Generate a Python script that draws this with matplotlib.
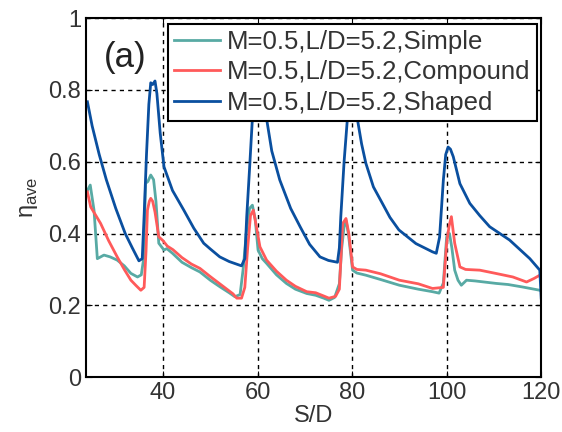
import matplotlib.pyplot as plt
import numpy as np

# M=0.5, L/D=5.2 averaged effectiveness vs S/D
simple_x = [24, 24.6, 25.4, 26.1, 27.5, 28.8, 30.3, 31.8, 33.2, 34.6, 35.4, 35.9, 36.3,
            36.8, 37.4, 38.0, 38.5, 39.1, 40.2, 40.8, 42.0, 44.0, 46.0, 47.8, 50.0,
            52.0, 54.0, 55.2, 56.3, 57.0, 57.6, 58.3, 58.9, 59.5, 60.1, 61.0, 61.9,
            64.0, 66.1, 68.0, 70.4, 72.3, 74.0, 75.1, 76.3, 77.3, 77.8, 78.3, 78.7,
            79.2, 80.1, 81.0, 82.9, 86.0, 90.0, 94.0, 97.0, 98.4, 99.3, 100.0, 100.6,
            101.1, 101.7, 102.4, 103.1, 104.2, 106.0, 110.5, 113.0, 116.1, 119.7, 120]
simple_y = [0.52, 0.535, 0.465, 0.33, 0.34, 0.335, 0.326, 0.31, 0.289, 0.279, 0.285, 0.33, 0.54,
            0.545, 0.563, 0.55, 0.49, 0.373, 0.354, 0.358, 0.345, 0.32, 0.305, 0.293, 0.27,
            0.252, 0.235, 0.224, 0.23, 0.307, 0.40, 0.47, 0.479, 0.44, 0.354, 0.33, 0.317,
            0.285, 0.261, 0.245, 0.233, 0.228, 0.22, 0.214, 0.222, 0.26, 0.36, 0.419, 0.437,
            0.40, 0.298, 0.29, 0.284, 0.272, 0.256, 0.245, 0.238, 0.234, 0.262, 0.391, 0.40,
            0.36, 0.298, 0.27, 0.256, 0.27, 0.268, 0.261, 0.258, 0.251, 0.242, 0.24]

compound_x = [24, 24.7, 25.8, 26.8, 28.5, 30.3, 31.8, 33.2, 34.3, 35.3, 36.0, 36.4, 36.7,
              37.1, 37.4, 37.8, 38.3, 39.1, 40.0, 40.9, 42.1, 44.0, 46.0, 47.8, 50.0,
              52.0, 54.8, 55.6, 56.6, 57.3, 57.9, 58.5, 59.1, 59.6, 60.5, 61.9, 64.0,
              66.1, 68.0, 70.4, 72.3, 74.0, 75.1, 76.5, 77.3, 77.7, 78.0, 78.7, 79.3,
              80.1, 81.0, 82.9, 86.0, 90.0, 94.0, 97.0, 99.3, 100.0, 100.5, 101.0, 101.7,
              102.8, 104.0, 107.0, 110.0, 114.0, 116.9, 118.5, 119.7]
compound_y = [0.516, 0.474, 0.45, 0.428, 0.38, 0.335, 0.30, 0.27, 0.255, 0.242, 0.25, 0.35, 0.465,
              0.49, 0.498, 0.49, 0.46, 0.391, 0.38, 0.365, 0.355, 0.333, 0.315, 0.303, 0.28,
              0.26, 0.232, 0.22, 0.22, 0.25, 0.36, 0.45, 0.465, 0.43, 0.363, 0.326, 0.295,
              0.27, 0.253, 0.238, 0.235, 0.226, 0.22, 0.225, 0.245, 0.35, 0.428, 0.442, 0.40,
              0.307, 0.30, 0.298, 0.288, 0.27, 0.26, 0.247, 0.25, 0.373, 0.42, 0.447, 0.373,
              0.307, 0.30, 0.298, 0.29, 0.279, 0.265, 0.275, 0.284]

shaped_x = [24, 25.0, 26.5, 28.0, 30.0, 32.0, 33.5, 34.9, 35.6, 36.0, 36.5, 37.0, 37.4,
            37.8, 38.3, 38.7, 39.4, 40.2, 42.0, 44.4, 46.5, 48.6, 50.0, 52.0, 54.0,
            56.6, 57.3, 57.7, 58.3, 58.9, 59.5, 60.3, 61.2, 61.9, 63.0, 64.7, 67.0,
            69.0, 71.0, 73.2, 75.0, 76.9, 77.3, 77.6, 78.3, 79.0, 79.7, 80.4, 81.1,
            82.0, 82.9, 84.5, 86.4, 88.0, 89.9, 93.5, 97.0, 97.8, 98.5, 99.3, 99.8,
            100.3, 100.8, 101.4, 102.8, 104.9, 107.0, 109.1, 113.3, 117.6, 119.7, 120]
shaped_y = [0.767, 0.70, 0.62, 0.55, 0.47, 0.40, 0.36, 0.324, 0.33, 0.45, 0.62, 0.76, 0.82,
            0.815, 0.825, 0.79, 0.68, 0.586, 0.52, 0.465, 0.415, 0.373, 0.357, 0.335, 0.322,
            0.31, 0.33, 0.446, 0.58, 0.72, 0.80, 0.80, 0.76, 0.72, 0.63, 0.549, 0.47,
            0.419, 0.37, 0.335, 0.325, 0.32, 0.36, 0.446, 0.60, 0.72, 0.78, 0.78, 0.72,
            0.65, 0.596, 0.53, 0.484, 0.445, 0.41, 0.372, 0.349, 0.345, 0.39, 0.549, 0.62,
            0.641, 0.635, 0.614, 0.539, 0.484, 0.45, 0.419, 0.382, 0.33, 0.298, 0.22]

labels = ['M=0.5,L/D=5.2,Simple', 'M=0.5,L/D=5.2,Compound', 'M=0.5,L/D=5.2,Shaped']
colors = ['#58aaa4', '#ff5a5a', '#0a4f9f']

plt.rcParams['font.family'] = ['Liberation Sans', 'DejaVu Sans']

fig = plt.figure(figsize=(5.62, 4.32), dpi=100)
ax = fig.add_axes([0.153, 0.127, 0.81, 0.831])

ax.plot(simple_x, simple_y, color=colors[0], lw=2, label=labels[0])
ax.plot(compound_x, compound_y, color=colors[1], lw=2, label=labels[1])
ax.plot(shaped_x, shaped_y, color=colors[2], lw=2, label=labels[2])

ax.set_xlim(23.7, 120)
ax.set_ylim(0, 1)
ax.set_xticks([40, 60, 80, 100, 120])
ax.set_yticks([0, 0.2, 0.4, 0.6, 0.8, 1])
ax.set_yticklabels(['0', '0.2', '0.4', '0.6', '0.8', '1'])
ax.grid(True, color='black', linestyle=(0, (3, 3)), linewidth=1)
ax.tick_params(direction='in', top=True, right=True, labelsize=17, length=4,
               color='black', labelcolor='#333333')
for s in ax.spines.values():
    s.set_linewidth(1.5)

ax.set_xlabel('S/D', fontsize=17, labelpad=1, color='#333333')
ax.set_ylabel('η$_{\\mathregular{ave}}$', fontsize=17, labelpad=6, color='#333333')

ax.text(32, 0.89, '(a)', fontsize=25, ha='center', va='center', color='#222222')

leg = ax.legend(loc='upper right', bbox_to_anchor=(0.99, 0.985), fontsize=18.5,
                frameon=True, fancybox=False, edgecolor='black', framealpha=1,
                handlelength=1.8, handletextpad=0.25, labelspacing=0.25,
                borderpad=0.25, borderaxespad=0)
leg.get_frame().set_linewidth(1.5)
for t in leg.get_texts():
    t.set_color('#333333')

fig.savefig('out.png', dpi=100)
